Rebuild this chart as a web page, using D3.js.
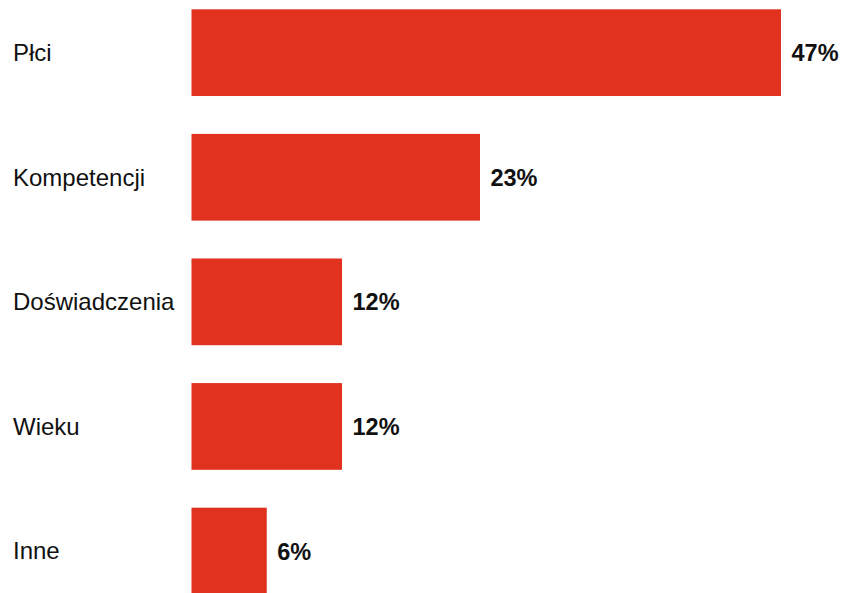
<!DOCTYPE html>
<html>
<head>
<meta charset="utf-8">
<script src="https://cdn.jsdelivr.net/npm/d3@7"></script>
<style>
  html, body { margin: 0; padding: 0; background: #ffffff; }
  svg { display: block; }
</style>
</head>
<body>
<script>
// Reasons given, share of answers (%)
const categories = ["Płci", "Kompetencji", "Doświadczenia", "Wieku", "Inne"];
const values = [47, 23, 12, 12, 6];
const valueLabels = ["47%", "23%", "12%", "12%", "6%"];

const width = 843, height = 593;
const barColor = "#e0321f";
const fontFamily = "'Liberation Sans', Arial, Helvetica, sans-serif";

const svg = d3.select("body").append("svg")
  .attr("width", width)
  .attr("height", height);

const x = d3.scaleLinear()
  .domain([0, 47])
  .range([191.5, 781]);

const y = d3.scaleBand()
  .domain(categories)
  .range([9.3, 594.4])
  .paddingInner(0.304)
  .paddingOuter(0);

const rows = categories.map((c, i) => ({ cat: c, value: values[i], label: valueLabels[i] }));

svg.append("g")
  .selectAll("rect")
  .data(rows)
  .join("rect")
  .attr("x", x(0))
  .attr("y", d => y(d.cat))
  .attr("width", d => x(d.value) - x(0))
  .attr("height", y.bandwidth())
  .attr("fill", barColor);

// Category names on the left
svg.append("g")
  .selectAll("text")
  .data(rows)
  .join("text")
  .attr("x", 13)
  .attr("y", d => y(d.cat) + y.bandwidth() / 2 + 8.4)
  .attr("font-family", fontFamily)
  .attr("font-size", 24)
  .attr("fill", "#111111")
  .text(d => d.cat);

// Value labels at the end of each bar
svg.append("g")
  .selectAll("text")
  .data(rows)
  .join("text")
  .attr("x", d => x(d.value) + 10.5)
  .attr("y", d => y(d.cat) + y.bandwidth() / 2 + 8.5)
  .attr("font-family", fontFamily)
  .attr("font-size", 23.5)
  .attr("font-weight", "bold")
  .attr("fill", "#111111")
  .text(d => d.label);
</script>
</body>
</html>
